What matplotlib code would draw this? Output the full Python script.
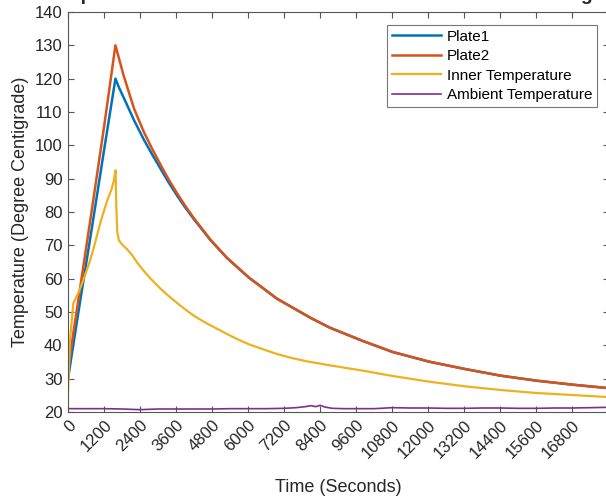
import matplotlib
matplotlib.use('Agg')
import matplotlib.pyplot as plt

plt.rcParams['font.family'] = ['Liberation Sans', 'DejaVu Sans']

# time axis (seconds) and readings
t_plate = [0, 400, 800, 1200, 1580, 1700, 1850, 1972, 2200, 2526, 2800, 3080, 3350,
           3634, 3900, 4188, 4742, 5296, 6028, 6958, 8066, 8718, 9820, 10813,
           12027, 13218, 14409, 15600, 16803, 17950]
plate1 = [30, 53, 75.5, 98.5, 120, 117.3, 114.4, 112, 107.5, 101.7, 97.3, 93, 88.9,
          84.9, 81.4, 77.9, 71.6, 66.2, 60.3, 54.0, 48.3, 45.3, 41.3, 38.0,
          35.1, 32.9, 30.9, 29.4, 28.2, 27.2]
plate2 = [33, 57, 81, 105.5, 130, 126, 121, 117.5, 111, 104, 99, 94.2, 89.8,
          85.6, 81.9, 78.2, 71.7, 66.2, 60.3, 54.0, 48.3, 45.3, 41.3, 38.0,
          35.1, 32.9, 30.9, 29.4, 28.2, 27.2]

t_inner = [0, 67, 178, 344, 511, 700, 850, 1100, 1307, 1450, 1529, 1585, 1607, 1640,
           1695, 1806, 1972, 2150, 2305, 2500, 2750, 3080, 3350, 3634, 3900, 4188,
           4500, 4742, 5000, 5296, 5650, 6028, 6500, 6958, 7450, 7955, 8718, 9820,
           10813, 12027, 13218, 14409, 15600, 16803, 17950]
inner = [26, 41.6, 52.7, 55.7, 59.6, 64.5, 69, 77.5, 83.5, 86.8, 89.5, 92.5, 82, 74,
         71.5, 70.2, 68.8, 66.9, 64.8, 62.6, 60, 57, 54.8, 52.7, 50.8, 48.9,
         47.2, 46.0, 44.8, 43.4, 41.8, 40.3, 38.8, 37.4, 36.2, 35.2, 34.0, 32.4,
         30.8, 29.1, 27.7, 26.6, 25.7, 25.1, 24.5]

t_amb = [0, 600, 1200, 1800, 2400, 3000, 3600, 4200, 4800, 5400, 6000, 6600, 7200,
         7600, 7900, 8100, 8250, 8400, 8550, 8800, 9200, 9600, 10200, 10800, 11400,
         12000, 12600, 13200, 13800, 14400, 15000, 15600, 16200, 16800, 17400, 17950]
ambient = [21.0, 21.0, 21.0, 20.9, 20.7, 20.9, 20.9, 20.9, 20.9, 21.0, 21.0, 21.0, 21.1,
           21.3, 21.6, 21.9, 21.6, 22.0, 21.5, 21.1, 21.0, 21.0, 21.0, 21.3, 21.2,
           21.2, 21.1, 21.1, 21.2, 21.2, 21.1, 21.1, 21.2, 21.2, 21.3, 21.4]

xticks = list(range(0, 18000, 1200))
yticks = list(range(20, 141, 10))

fig = plt.figure(figsize=(6.06, 5.0), dpi=100)
ax = fig.add_axes([68/606, 88/500, 540.5/606, 400/500])

ax.plot(t_plate, plate1, color='#0072BD', lw=1.8, label='Plate1')
ax.plot(t_plate, plate2, color='#D95319', lw=1.8, label='Plate2')
ax.plot(t_inner, inner, color='#EDB120', lw=1.6, label='Inner Temperature')
ax.plot(t_amb, ambient, color='#7E2F8E', lw=1.2, label='Ambient Temperature')

ax.set_xlim(0, 18000)
ax.set_ylim(20, 140)
ax.set_xticks(xticks)
ax.set_yticks(yticks)
ax.set_xticklabels([str(v) for v in xticks], rotation=45, ha='right',
                   rotation_mode='anchor')
ax.tick_params(direction='in', length=4, width=0.8, color='#555555',
               labelsize=12, labelcolor='#262626', top=True, right=True, pad=4)
for s in ax.spines.values():
    s.set_color('#555555')
    s.set_linewidth(0.8)

ax.set_xlabel('Time (Seconds)', fontsize=13, color='#262626', labelpad=13)
ax.set_ylabel('Temperature (Degree Centigrade)', fontsize=13, color='#262626')

# title sits above the visible area, only descenders show
fig.text(317/606, 1.0, 'Temperature Variation of Plates and Inner Chamber Heating',
         ha='center', va='baseline', fontsize=14, fontweight='bold', color='#262626')

leg = ax.legend(loc='upper right', bbox_to_anchor=(597/606, 1 - 25/500),
                bbox_transform=fig.transFigure, borderaxespad=0, fontsize=11,
                frameon=True, fancybox=False, handlelength=3.2, labelspacing=0.36,
                borderpad=0.3, handletextpad=0.4)
leg.get_frame().set_edgecolor('#555555')
leg.get_frame().set_linewidth(0.8)

fig.savefig('out.png', dpi=100)
